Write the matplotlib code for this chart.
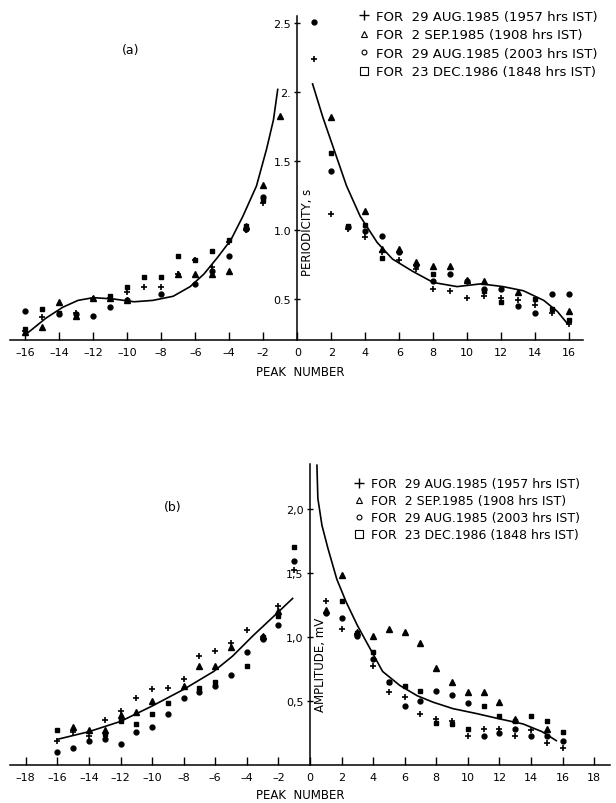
import numpy as np
import matplotlib.pyplot as plt
from matplotlib.lines import Line2D

nan = np.nan

# peak numbers
peaks = [-16, -15, -14, -13, -12, -11, -10, -9, -8, -7, -6, -5, -4, -3, -2, -1,
         1, 2, 3, 4, 5, 6, 7, 8, 9, 10, 11, 12, 13, 14, 15, 16]

# (a) periodicity, s
per_aug1957 = [0.27, 0.37, nan, 0.40, 0.50, 0.51, 0.55, 0.59, 0.59, 0.68, 0.78, 0.73, 0.91, 1.00, 1.20, nan,
               2.24, 1.12, 1.01, 0.95, 0.84, 0.78, 0.72, 0.57, 0.56, 0.51, 0.52, 0.51, 0.49, 0.46, 0.40, 0.32]
per_sep1908 = [0.26, 0.30, 0.48, 0.38, 0.51, 0.51, 0.49, nan, nan, 0.68, 0.68, 0.68, 0.70, 1.03, 1.33, 1.83,
               nan, 1.82, nan, 1.14, 0.86, 0.86, 0.77, 0.74, 0.74, 0.64, 0.63, nan, 0.55, nan, nan, 0.41]
per_aug2003 = [0.41, nan, 0.39, 0.39, 0.38, 0.44, 0.49, nan, 0.54, nan, 0.61, 0.70, 0.81, 1.01, 1.24, nan,
               2.51, 1.43, 1.02, 0.99, 0.96, 0.84, 0.75, 0.63, 0.68, 0.63, 0.57, 0.57, 0.45, 0.40, 0.54, 0.54]
per_dec1848 = [0.28, 0.43, 0.40, nan, nan, 0.52, 0.59, 0.66, 0.66, 0.81, 0.78, 0.85, 0.93, 1.03, 1.22, nan,
               nan, 1.56, 1.03, 1.04, 0.80, nan, nan, 0.68, nan, nan, 0.56, 0.48, nan, 0.50, 0.43, 0.35]

# (a) fitted curve
per_fit_lx = [-15.9, -14.8, -13.8, -12.9, -12.0, -10.8, -9.6, -8.5, -7.3, -6.3, -5.5, -4.7, -3.9, -3.2, -2.4, -1.8, -1.4, -1.15]
per_fit_ly = [0.25, 0.36, 0.44, 0.49, 0.51, 0.50, 0.48, 0.49, 0.52, 0.59, 0.68, 0.80, 0.93, 1.10, 1.32, 1.59, 1.80, 2.02]
per_fit_rx = [0.9, 1.5, 2.2, 2.9, 3.7, 4.7, 5.6, 6.8, 8.0, 9.4, 10.8, 12.1, 13.3, 14.5, 15.3, 15.9]
per_fit_ry = [2.06, 1.82, 1.57, 1.32, 1.10, 0.91, 0.79, 0.70, 0.62, 0.59, 0.61, 0.59, 0.56, 0.49, 0.41, 0.32]

# (b) amplitude, mV
amp_aug1957 = [0.19, 0.26, 0.23, 0.35, 0.42, 0.52, 0.59, 0.60, 0.67, 0.85, 0.89, 0.95, 1.05, 1.00, 1.24, 1.52,
               1.28, 1.06, 1.02, 0.77, 0.57, 0.53, 0.40, 0.36, 0.34, 0.23, 0.28, 0.28, 0.23, 0.27, 0.17, 0.13]
amp_sep1908 = [nan, 0.30, 0.27, 0.27, 0.39, 0.41, 0.50, nan, 0.62, 0.77, 0.77, 0.92, nan, 1.01, 1.20, nan,
               1.21, 1.48, 1.04, 1.01, 1.06, 1.04, 0.95, 0.76, 0.65, 0.57, 0.57, 0.49, 0.36, nan, 0.28, nan]
amp_aug2003 = [0.10, 0.13, 0.19, 0.20, 0.16, 0.26, 0.30, 0.40, 0.52, 0.57, 0.62, 0.70, 0.88, 0.98, 1.09, 1.59,
               1.19, 1.15, 1.01, 0.83, 0.65, 0.46, 0.50, 0.58, 0.55, 0.48, 0.23, 0.25, 0.28, 0.23, 0.23, 0.19]
amp_dec1848 = [0.27, nan, nan, 0.24, 0.34, 0.32, 0.40, 0.48, nan, 0.60, 0.65, nan, 0.77, 1.00, 1.16, 1.70,
               nan, 1.28, 1.03, 0.88, 0.65, 0.62, 0.58, 0.33, 0.32, 0.28, 0.46, 0.38, 0.34, 0.38, 0.34, 0.26]

# (b) fitted curve
amp_fit_lx = [-16.0, -14.0, -12.0, -10.0, -8.0, -6.1, -4.9, -3.6, -2.3, -1.1]
amp_fit_ly = [0.20, 0.26, 0.34, 0.46, 0.59, 0.73, 0.85, 1.01, 1.16, 1.30]
amp_fit_rx = [0.44, 0.5, 0.76, 1.14, 1.7, 2.3, 3.0, 3.8, 4.6, 5.7, 6.8, 7.8, 9.05, 10.6, 12.0, 13.5, 14.7, 15.6]
amp_fit_ry = [2.34, 2.08, 1.87, 1.69, 1.45, 1.27, 1.09, 0.91, 0.73, 0.62, 0.54, 0.49, 0.44, 0.40, 0.36, 0.32, 0.26, 0.19]

labels = ["FOR  29 AUG.1985 (1957 hrs IST)",
          "FOR  2 SEP.1985 (1908 hrs IST)",
          "FOR  29 AUG.1985 (2003 hrs IST)",
          "FOR  23 DEC.1986 (1848 hrs IST)"]

plt.rcParams['font.family'] = 'DejaVu Sans'
fig = plt.figure(figsize=(6.16, 8.04), dpi=100)

ax_a = fig.add_axes([0.0162, 0.5754, 0.930, 0.403])
ax_b = fig.add_axes([0.0162, 0.0473, 0.974, 0.3744])


def style_axis(ax, xlim, ylim, xticks, yticks, yticklabels):
    ax.set_xlim(*xlim)
    ax.set_ylim(*ylim)
    ax.spines['left'].set_position(('data', 0))
    ax.spines['top'].set_visible(False)
    ax.spines['right'].set_visible(False)
    ax.spines['left'].set_linewidth(1.1)
    ax.spines['bottom'].set_linewidth(1.1)
    ax.set_xticks(xticks)
    ax.set_xticklabels([f"{t}" if t >= 0 else f"\u2013{-t}" for t in xticks])
    ax.set_yticks(yticks)
    ax.set_yticklabels(yticklabels)
    ax.tick_params(axis='x', direction='in', length=6, width=1, labelsize=8, pad=5)
    ax.tick_params(axis='y', direction='inout', length=5, width=1, labelsize=8, pad=2)


def draw_points(ax, s1, s2, s3, s4):
    ax.plot(peaks, s1, ls='none', marker='+', ms=5, mew=1.2, color='black')
    ax.plot(peaks, s2, ls='none', marker='^', ms=4, color='black')
    ax.plot(peaks, s3, ls='none', marker='o', ms=3.5, color='black')
    ax.plot(peaks, s4, ls='none', marker='s', ms=3.5, color='black')


handles = [Line2D([], [], ls='none', marker='+', ms=7, mew=1, color='black'),
           Line2D([], [], ls='none', marker='^', ms=5, mfc='white', mec='black', mew=0.8),
           Line2D([], [], ls='none', marker='o', ms=3.5, mfc='white', mec='black', mew=0.8),
           Line2D([], [], ls='none', marker='s', ms=5.5, mfc='white', mec='black', mew=0.8)]

# ---- panel (a)
style_axis(ax_a, (-16.9, 16.8), (0.2, 2.55), list(range(-16, 17, 2)),
           [0.5, 1.0, 1.5, 2.0, 2.5], ["0.5", "1.0", "1.5", "2.", "2.5"])
draw_points(ax_a, per_aug1957, per_sep1908, per_aug2003, per_dec1848)
ax_a.plot(per_fit_lx, per_fit_ly, color='black', lw=1.2)
ax_a.plot(per_fit_rx, per_fit_ry, color='black', lw=1.2)
ax_a.text(-9.8, 2.31, "(a)", fontsize=9, ha='center', va='center')
ax_a.text(0.6, 0.99, "PERIODICITY, s", rotation=90, fontsize=8.5, ha='center', va='center')
fig.text(0.487, 0.537, "PEAK  NUMBER", fontsize=8.5, ha='center', va='center')
ax_a.legend(handles, labels, loc='upper left', bbox_to_anchor=(0.572, 0.995),
            bbox_transform=fig.transFigure, frameon=False, fontsize=9.5,
            handlelength=0.8, handletextpad=0.5, labelspacing=0.42, borderpad=0)

# ---- panel (b)
style_axis(ax_b, (-19, 19), (0, 2.35), list(range(-18, 19, 2)),
           [0.5, 1.0, 1.5, 2.0], ["0,5", "1,0", "1,5", "2,0"])
draw_points(ax_b, amp_aug1957, amp_sep1908, amp_aug2003, amp_dec1848)
ax_b.plot(amp_fit_lx, amp_fit_ly, color='black', lw=1.2)
ax_b.plot(amp_fit_rx, amp_fit_ry, color='black', lw=1.2)
ax_b.text(-8.7, 2.02, "(b)", fontsize=9, ha='center', va='center')
ax_b.text(0.65, 0.79, "AMPLITUDE, mV", rotation=90, fontsize=8.5, ha='center', va='center')
fig.text(0.487, 0.011, "PEAK  NUMBER", fontsize=8.5, ha='center', va='center')
ax_b.legend(handles, labels, loc='upper left', bbox_to_anchor=(0.565, 0.413),
            bbox_transform=fig.transFigure, frameon=False, fontsize=9,
            handlelength=0.8, handletextpad=0.5, labelspacing=0.32, borderpad=0)

fig.savefig("out.png", dpi=100)
